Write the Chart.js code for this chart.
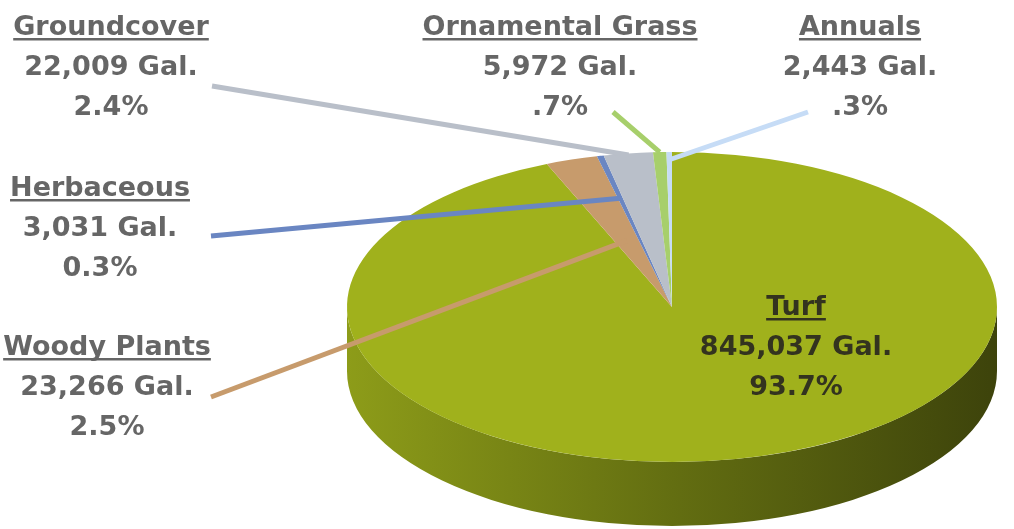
<!DOCTYPE html>
<html>
<head>
<meta charset="utf-8">
<script src="https://cdn.jsdelivr.net/npm/chart.js@4.4.0/dist/chart.umd.min.js"></script>
<style>
	html, body { margin: 0; padding: 0; background: #fff; }
	#wrap { width: 1014px; height: 529px; }
</style>
</head>
<body>
<div id="wrap"><canvas id="water" width="1014" height="529"></canvas></div>
<script>
const categories = ["Turf", "Woody Plants", "Herbaceous", "Groundcover", "Ornamental Grass", "Annuals"];
const gallons = [845037, 23266, 3031, 22009, 5972, 2443];
const percentText = ["93.7%", "2.5%", "0.3%", "2.4%", ".7%", ".3%"];
const sliceColors = ["#a0b11c", "#c79b6c", "#6a86c2", "#b9bfc9", "#a7cf6b", "#c6dcf6"];

// ---------------------------------------- layout ----------------------------------------

// ellipse for the top face of the 3D pie, plus the thickness of the side wall
const pieCx = 672;
const pieCy = 307;
const pieRx = 325;
const pieRy = 155;
const pieDepth = 64;

// label blocks: centre x, first baseline, leader start, how far into the slice the leader goes
const labelLayout = [
	{ x: 796, y: 315, color: "#33331f" },
	{ x: 107, y: 355, color: "#666666", from: [211, 397], reach: 0.45 },
	{ x: 100, y: 196, color: "#666666", from: [211, 236], reach: 0.72 },
	{ x: 111, y: 35, color: "#666666", from: [212, 86], reach: 0.99 },
	{ x: 560, y: 35, color: "#666666", from: [613, 112], reach: 1.0 },
	{ x: 860, y: 35, color: "#666666", from: [808, 112], reach: 0.95 },
];

function shade(hex, k) {
	const n = parseInt(hex.slice(1), 16);
	const r = Math.round(((n >> 16) & 255) * k);
	const g = Math.round(((n >> 8) & 255) * k);
	const b = Math.round((n & 255) * k);
	return "rgb(" + r + "," + g + "," + b + ")";
}

function ellipsePoint(angle, f) {
	return [pieCx + pieRx * f * Math.cos(angle), pieCy + pieRy * f * Math.sin(angle)];
}

// ---------------------------------------- 3D pie plugin ----------------------------------------

const pie3d = {
	id: "pie3d",
	beforeDatasetDraw(chart, args) {
		const ctx = chart.ctx;
		const arcs = args.meta.data;

		// side wall, only the front half of the ellipse is visible
		arcs.forEach((arc, i) => {
			const s = Math.max(arc.startAngle, 0);
			const e = Math.min(arc.endAngle, Math.PI);
			if (e <= s) return;
			const grad = ctx.createLinearGradient(pieCx - pieRx, 0, pieCx + pieRx, 0);
			grad.addColorStop(0, shade(sliceColors[i], 0.88));
			grad.addColorStop(0.5, shade(sliceColors[i], 0.62));
			grad.addColorStop(1, shade(sliceColors[i], 0.38));
			ctx.beginPath();
			ctx.ellipse(pieCx, pieCy, pieRx, pieRy, 0, s, e, false);
			ctx.ellipse(pieCx, pieCy + pieDepth, pieRx, pieRy, 0, e, s, true);
			ctx.closePath();
			ctx.fillStyle = grad;
			ctx.fill();
		});

		// squash the round pie into the top face ellipse
		const a0 = arcs[0];
		ctx.save();
		ctx.translate(pieCx, pieCy);
		ctx.scale(pieRx / a0.outerRadius, pieRy / a0.outerRadius);
		ctx.translate(-a0.x, -a0.y);
	},
	afterDatasetDraw(chart) {
		chart.ctx.restore();
	},
};

// ---------------------------------------- callout labels ----------------------------------------

const calloutLabels = {
	id: "calloutLabels",
	afterDraw(chart) {
		const ctx = chart.ctx;
		const arcs = chart.getDatasetMeta(0).data;
		ctx.save();

		labelLayout.forEach((lay, i) => {
			if (!lay.from) return;
			const arc = arcs[i];
			const mid = (arc.startAngle + arc.endAngle) / 2;
			const end = ellipsePoint(mid, lay.reach);
			ctx.beginPath();
			ctx.moveTo(lay.from[0], lay.from[1]);
			ctx.lineTo(end[0], end[1]);
			ctx.strokeStyle = sliceColors[i];
			ctx.lineWidth = 5;
			ctx.stroke();
		});

		ctx.font = "bold 27px 'DejaVu Sans'";
		ctx.textAlign = "center";
		ctx.textBaseline = "alphabetic";
		labelLayout.forEach((lay, i) => {
			const lines = [
				categories[i],
				gallons[i].toLocaleString("en-US") + " Gal.",
				percentText[i],
			];
			ctx.fillStyle = lay.color;
			lines.forEach((t, k) => ctx.fillText(t, lay.x, lay.y + k * 40));
			const w = ctx.measureText(lines[0]).width;
			ctx.fillRect(lay.x - w / 2, lay.y + 3, w, 2.5);
		});

		ctx.restore();
	},
};

// ---------------------------------------- chart ----------------------------------------

const chartWater = document.getElementById("water");

const graphWater = new Chart(chartWater, {
	type: "pie",
	data: {
		labels: categories,
		datasets: [
			{
				data: gallons,
				backgroundColor: sliceColors,
				borderWidth: 0,
				clip: false,
			},
		],
	},
	options: {
		responsive: false,
		animation: false,
		events: [],
		rotation: 0,
		plugins: {
			legend: { display: false },
			tooltip: { enabled: false },
		},
	},
	plugins: [pie3d, calloutLabels],
});
</script>
</body>
</html>
